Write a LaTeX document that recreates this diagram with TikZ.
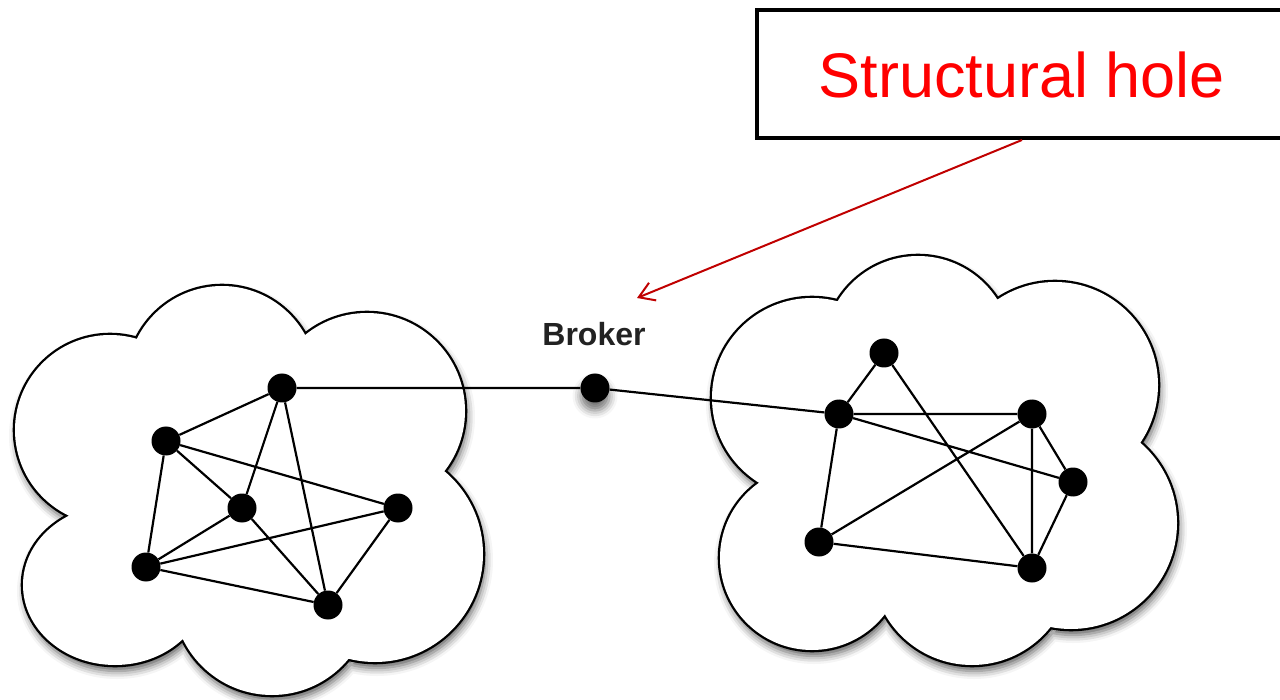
\documentclass[tikz,border=0pt]{standalone}
\usepackage{fontspec}
\setmainfont{Liberation Sans}
\usetikzlibrary{arrows.meta,shadows.blur}

\definecolor{holered}{HTML}{FF0000}
\definecolor{arrowred}{HTML}{C00000}
\definecolor{labelgray}{HTML}{222222}

% outlines of the two clouds, each a union of bumps
\def\leftcloud{(222,381) circle[radius=95] (367,411) circle[radius=98]
  (375,554) circle[radius=108] (272,596) circle[radius=99]
  (115,585) ellipse[x radius=92,y radius=80] (110,430) circle[radius=95]
  (250,490) ellipse[x radius=170,y radius=140]}
\def\rightcloud{(918,350) circle[radius=94] (1055,385) circle[radius=103]
  (1071,523) circle[radius=106] (972,565) circle[radius=100]
  (812,558) circle[radius=92] (812,398) circle[radius=100]
  (945,460) ellipse[x radius=160,y radius=130]}

\begin{document}
\begin{tikzpicture}[x=1pt,y=-1pt,
  dot/.style={circle,fill=black,inner sep=0pt,minimum size=29pt},
  link/.style={line width=2.2pt,black},
  cloudshade/.style={fill=white,blur shadow={shadow xshift=2pt,shadow yshift=-6pt,
      shadow blur radius=8pt,shadow opacity=65}},
  cloudrim/.style={line width=4.6pt,black},
  holebox/.style={draw=black,line width=4pt,minimum width=560pt,minimum height=128pt,inner sep=0pt},
  pointer/.style={arrowred,line width=2pt,-{Straight Barb[length=15pt,width=19pt]}}]
\useasboundingbox (0,0) rectangle (1280,700);
\clip (0,0) rectangle (1280,700);

% clouds: shadow, doubled rim, then white interior covering the inner half of the rim
\fill[cloudshade] \leftcloud;
\draw[cloudrim] \leftcloud;
\fill[white] \leftcloud;
\fill[cloudshade] \rightcloud;
\draw[cloudrim] \rightcloud;
\fill[white] \rightcloud;

% left cluster
\node[dot] (a) at (282,388) {};
\node[dot] (b) at (166,441) {};
\node[dot] (c) at (242,508) {};
\node[dot] (d) at (398,508) {};
\node[dot] (e) at (146,567) {};
\node[dot] (f) at (328,605) {};

% right cluster
\node[dot] (p) at (884,353) {};
\node[dot] (q) at (839,414) {};
\node[dot] (r) at (1032,414) {};
\node[dot] (s) at (1073,482) {};
\node[dot] (t) at (819,542) {};
\node[dot] (u) at (1032,568) {};

% broker between the clusters
\node[dot,blur shadow={shadow xshift=0pt,shadow yshift=-8pt,shadow blur radius=8pt,shadow opacity=55}] (k) at (595,388) {};
\node[text=labelgray,font=\bfseries\fontsize{32}{36}\selectfont] (klabel) at (594,334) {Broker};

% ties
\draw[link] (a) -- (b) (a) -- (c) (a) -- (f) (b) -- (c) (b) -- (d) (b) -- (e)
  (c) -- (e) (c) -- (f) (d) -- (e) (d) -- (f) (e) -- (f);
\draw[link] (p) -- (q) (p) -- (u) (q) -- (r) (q) -- (s) (q) -- (t) (r) -- (t)
  (r) -- (s) (r) -- (u) (s) -- (u) (t) -- (u);
\draw[link] (a) -- (k) -- (q);

% callout
\node[holebox] (box) at (1037,74) {};
\node[text=holered,font=\fontsize{63}{70}\selectfont,inner sep=0pt] (hole) at (1022,75) {Structural hole};
\coordinate (holetip) at (637,298);
\draw[pointer] (hole |- box.south) -- (holetip);
\end{tikzpicture}
\end{document}
